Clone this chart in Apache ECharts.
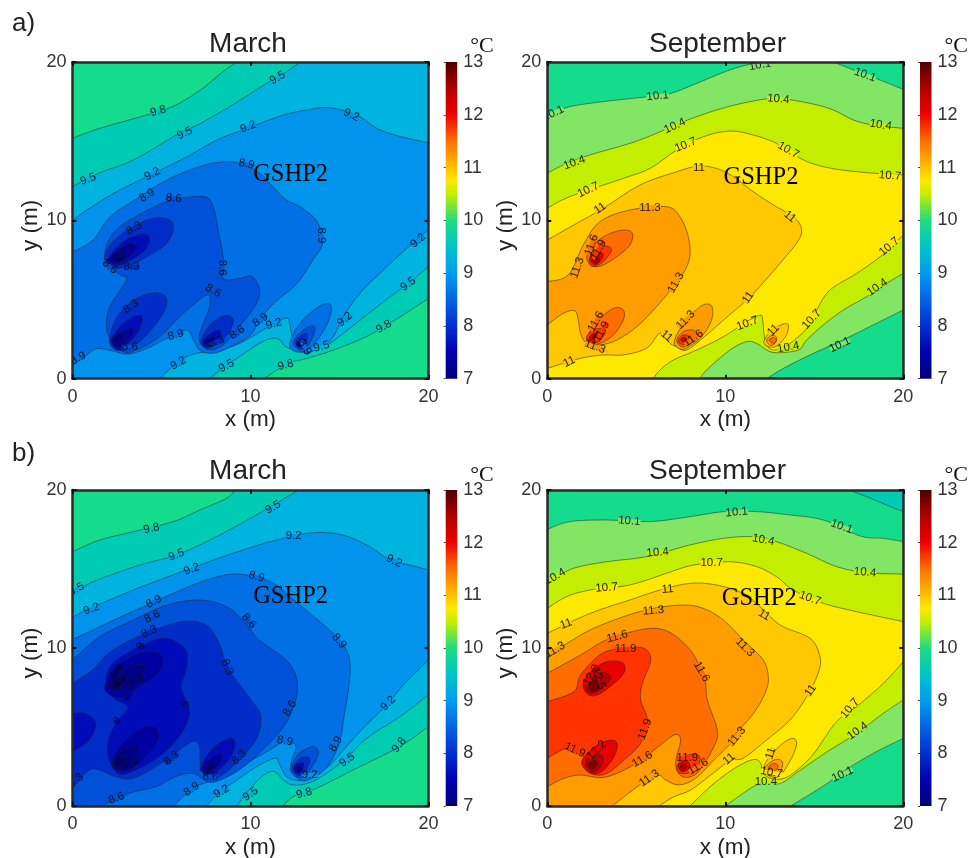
<!DOCTYPE html>
<html><head><meta charset="utf-8">
<style>html,body{margin:0;padding:0;background:#fff}#c{width:971px;height:858px}</style>
<script src="https://cdn.jsdelivr.net/npm/echarts@6/dist/echarts.min.js"></script>
</head><body><div id="c"></div>
<script>
// ---- tick labels / colour scale values
const xyTicks = [0, 10, 20];
const barTicks = [7, 8, 9, 10, 11, 12, 13];
const panelTitles = ['March', 'September', 'March', 'September'];

// ---- contour regions: [level, temperature inside the region, outline segments in metres]
const FULL = [[[0,0]],[[20,0]],[[20,20]],[[0,20]]];

const aMarchRegions = [
 [9.5, 9.65, FULL],
 [9.8, 9.9, [[[0,15.18],[1.5,15.8],[4.15,16.65],[5.65,17.2],[7.15,18.2],[8.46,19.4],[9.25,20]],[[0,20]]]],
 [9.8, 9.9, [[[20,5.07],[18.4,3.9],[17.45,3.28],[16.5,2.65],[14.65,1.8],[13.15,1.28],[12.4,1.07],[11.9,.86],[10.9,.1],[10.7,0]],[[20,0]]]],
 [9.5, 9.35, [[[0,12.13],[1.5,13],[3.4,13.8],[5.85,15.4],[7.15,16.1],[9,17.3],[10.9,18.65],[11.85,19.25],[12.8,20]],[[20,20]],
   [[20,7.07],[18.85,6],[18,5.3],[16.5,4],[15.2,2.86],[14.45,2.23],[13.5,1.8],[12.8,1.8],[12,2],[11.65,2.45],[11.2,2.55],[10.5,2.23],[9.4,1.4],[8.65,.86],[7.7,0]],[[0,0]]]],
 [9.2, 9.05, [[[0,10],[.8,10.65],[2.3,11.7],[4.15,12.75],[6.4,14],[8.1,15.07],[9.8,15.8],[11.85,16.65],[13.9,17.1],[15,17],[16.15,16.55],[17.1,15.8],[18.4,15.3],[20,14.9]],
   [[20,9.4],[18.75,8.2],[17.45,6.85],[16.15,5.4],[15.2,3.9],[14.65,2.65],[13.9,1.9],[12.95,1.65],[12.5,2],[12.3,2.85],[12.1,3.8],[11.55,3.6],[10.7,3.07],[9.4,2.23],[8.1,1.77],[6.8,1.56],[5.85,.97],[4.9,0]],[[0,0]]]],
 [8.9, 8.75, [[[0,.86],[.8,1.5],[1.35,1.9],[2.1,1.8],[3.1,1.56],[4.15,1.9],[5.3,2.55],[6.4,3.07],[6.8,2.44],[7.15,1.8],[7.9,1.6],[8.85,2],[10,2.76],[10.5,3.7],[11.3,4.76],[12.6,6],[13.5,7.5],[14,8.33],[14,9.07],[13.7,10],[12.8,10.85],[12,11.3],[11.1,12.3],[10.5,13],[9.4,13.6],[8.46,13.7],[7.15,13.4],[5.3,12.55],[3.8,11.5],[2.1,10.2],[1.15,8.75],[0,8]]]],
 [8.9, 8.75, [[[12.21,2.23],[12.58,3.18],[13.33,4.13],[14.27,4.76],[14.55,4.34],[14.18,3.18],[13.43,2.02],[12.77,1.68],[12.3,1.85]]]],
 [8.6, 8.45, [[[1.82,8.02],[2.28,9.18],[3.22,10.02],[5.28,11.18],[7.34,11.5],[7.9,10.86],[8.18,9.39],[8.46,7.7],[8.46,6.34],[9.4,6.34],[10.06,6.48],[10.52,5.6],[10.24,4.55],[9.2,3.07],[8.56,2.23],[7.81,1.81],[7.25,2.13],[7.15,2.86],[7.7,4.55],[7.53,5.28],[6.03,3.92],[4.9,2.65],[3.6,1.81],[2.85,1.7],[2.19,2.34],[1.91,3.28],[2.1,4.55],[3.03,6.23],[2.66,6.55],[2,7.28]]]],
 [8.6, 8.45, [[[12.43,2.34],[12.96,3.07],[13.52,3.33],[13.61,2.97],[13.24,2.13],[12.77,1.81]]]],
 [8.3, 8.15, [[[1.82,7.81],[2.19,8.55],[3.22,9.49],[4.53,10.13],[5.47,10.02],[5.66,9.39],[5.19,8.44],[4.16,7.7],[3.31,7.18],[2.47,6.97],[1.91,7.28]]]],
 [8.3, 8.15, [[[2.1,2.65],[2.57,4.02],[3.6,5.07],[4.72,5.43],[5.28,5.07],[5.09,4.13],[4.34,2.97],[3.41,2.02],[2.66,1.77],[2.19,2.02]]]],
 [8.3, 8.15, [[[7.21,2.44],[7.81,3.49],[8.56,3.98],[9.03,3.7],[8.75,2.86],[8.09,2.19],[7.53,1.92]]]],
 [8.3, 8.15, [[[12.55,2.34],[12.87,2.76],[13.18,2.82],[13.15,2.34],[12.77,1.92]]]],
 [8, 7.85, [[[2.06,7.7],[2.85,8.65],[3.88,9.12],[4.34,8.86],[4.06,8.13],[3.22,7.45],[2.47,7.14],[2,7.35]]]],
 [8, 7.85, [[[2.19,2.55],[2.85,3.49],[3.6,3.98],[3.93,3.81],[3.69,2.97],[3.03,2.13],[2.57,1.81],[2.19,2.23]]]],
 [8, 7.85, [[[7.34,2.44],[7.9,2.97],[8.28,3.03],[8.28,2.55],[7.81,2.06],[7.43,2.06]]]],
 [8, 7.85, [[[12.62,2.27],[12.87,2.55],[13.05,2.44],[12.87,2.02],[12.68,1.98]]]],
 [7.7, 7.55, [[[2.13,7.7],[2.85,8.34],[3.5,8.5],[3.6,8.13],[3.03,7.6],[2.38,7.24],[2.06,7.5]]]],
 [7.7, 7.55, [[[2.25,2.55],[2.75,2.97],[3.31,3.18],[3.41,2.86],[2.94,2.23],[2.57,1.92],[2.25,2.19]]]],
 [7.7, 7.55, [[[7.43,2.34],[7.81,2.65],[8,2.55],[7.72,2.19],[7.49,2.19]]]],
 [7.7, 7.55, [[[12.55,2.2],[12.8,2.4],[12.92,2.25],[12.75,2.03]]]],
 [7.4, 7.25, [[[2.19,7.6],[2.66,8.02],[3.03,8.02],[2.94,7.54],[2.47,7.28]]]],
 [7.4, 7.25, [[[2.28,2.55],[2.66,2.86],[2.94,2.76],[2.66,2.23],[2.38,2.13]]]],
 [7.1, 6.95, [[[2.38,7.54],[2.66,7.75],[2.85,7.6],[2.66,7.35]]]],
 [7.1, 6.95, [[[12.62,2.15],[12.78,2.28],[12.85,2.15],[12.72,2.05]]]]
];

const aSepRegions = [
 [10.4, 10.25, FULL],
 [10.1, 10, [[[0,16.65],[1.27,17.18],[3.15,17.5],[5.58,17.8],[6.9,18],[8.39,18.65],[10.26,19.5],[11.57,19.9],[12.3,20]],[[0,20]]]],
 [10.1, 10, [[[16.07,20],[17.2,19.5],[18.7,18.86],[20,18.27]],[[20,20]]]],
 [10.1, 10, [[[20,4.34],[18.3,3.39],[16.6,2.44],[14.76,1.5],[13.26,.65],[12.32,0]],[[20,0]]]],
 [10.4, 10.55, [[[0,12.97],[.9,13.5],[2.4,14.13],[4.64,14.86],[6.14,15.5],[7.64,16.23],[9.51,16.97],[11.39,17.5],[12.88,17.7],[14.76,17.39],[16.07,16.97],[17.19,16.34],[18.31,16.02],[20,15.81]],
   [[20,6.65],[19.06,6.02],[17.94,5.18],[16.63,4.34],[15.5,3.39],[14.57,2.44],[14.1,1.81],[12.88,1.64],[12.32,1.81],[11.76,2.23],[11.2,2.34],[10.26,1.81],[8.95,.55],[8.58,0]],[[0,0]]]],
 [10.7, 10.85, [[[0,10.76],[1.27,11.5],[4.27,12.65],[5.77,13.28],[7.27,14.44],[8.76,15.28],[10.26,15.64],[11.57,15.39],[12.88,14.86],[14.2,13.92],[15.5,13.39],[17.38,13.07],[20,12.86]],
   [[20,9.07],[18.69,7.7],[17.38,6.65],[15.88,5.6],[15.13,4.34],[14.57,3.18],[14,2.55],[13.35,2.02],[12.7,1.81],[12.32,2.13],[12.17,2.86],[12.1,3.7],[11.95,4.02],[11.2,3.6],[9.89,2.65],[8.39,1.81],[7.08,1.18],[6.33,.55],[5.96,0]],[[0,0]]]],
 [11, 11.15, [[[0,.65],[1.84,1.28],[3.15,1.5],[4.27,1.5],[5.58,1.92],[6.33,2.86],[6.89,2.23],[7.27,2.02],[7.83,1.81],[8.95,2.76],[9.89,3.7],[11,4.76],[11.76,5.6],[13.07,7.28],[14,8.55],[14.29,9.28],[14.1,9.92],[13.54,10.44],[12.7,10.97],[11.57,11.81],[10.45,12.76],[9.51,13.28],[8.48,13.43],[7.27,13.07],[5.2,12.23],[3.15,10.76],[1.65,9.81],[0,8.76]]]],
 [11, 11.15, [[[12.19,2.44],[12.6,3.07],[13.26,3.45],[13.54,3.39],[13.44,2.76],[12.98,2.13],[12.6,1.98],[12.23,2.13]]]],
 [11.3, 11.45, [[[0,6.13],[1.18,6.55],[2.02,8.44],[2.96,9.92],[4.64,10.65],[6.7,10.86],[7.45,10.23],[7.92,8.97],[8.01,7.7],[7.64,6.65],[7.08,5.81],[6.14,4.55],[5.02,3.28],[3.9,2.44],[2.96,2.13],[2.21,2.23],[1.87,2.86],[1.74,3.7],[1.55,4.29],[.9,4.13],[0,3.39]]]],
 [11.3, 11.45, [[[7.13,2.34],[7.73,3.6],[8.67,4.61],[9.23,4.59],[9.23,3.7],[8.67,2.65],[8.11,2.13],[7.55,1.85]]]],
 [11.3, 11.45, [[[12.32,2.44],[12.6,2.76],[12.88,2.61],[12.79,2.23],[12.51,2.11]]]],
 [11.6, 11.75, [[[2.21,7.7],[2.58,8.44],[3.33,9.07],[4.27,9.39],[4.78,9.18],[4.64,8.44],[3.9,7.7],[3.05,7.14],[2.49,7.14]]]],
 [11.6, 11.75, [[[2.21,2.55],[2.77,3.6],[3.71,4.44],[4.27,4.34],[4.27,3.7],[3.71,2.76],[2.96,2.23],[2.4,2.23]]]],
 [11.6, 11.75, [[[7.27,2.44],[7.64,2.97],[8.2,3.07],[8.39,2.76],[8.01,2.23],[7.55,2.02]]]],
 [11.6, 11.75, [[[12.47,2.44],[12.7,2.61],[12.88,2.44],[12.7,2.23]]]],
 [11.9, 12.05, [[[2.4,7.7],[2.87,8.23],[3.33,8.38],[3.61,8.13],[3.24,7.5],[2.77,7.12],[2.4,7.18]]]],
 [11.9, 12.05, [[[2.21,2.65],[2.58,3.07],[3.15,3.18],[3.24,2.86],[2.87,2.34],[2.4,2.27]]]],
 [11.9, 12.05, [[[7.36,2.44],[7.64,2.76],[7.94,2.65],[7.85,2.23],[7.49,2.19]]]],
 [12.2, 12.35, [[[2.4,7.6],[2.77,7.92],[3.15,7.87],[2.96,7.39],[2.62,7.18]]]],
 [12.2, 12.35, [[[2.36,2.65],[2.68,2.9],[3,2.76],[2.77,2.4],[2.45,2.4]]]],
 [12.2, 12.35, [[[7.49,2.48],[7.7,2.62],[7.85,2.45],[7.65,2.3]]]],
 [12.5, 12.65, [[[2.49,7.54],[2.77,7.75],[2.92,7.54],[2.73,7.28]]]],
 [12.5, 12.65, [[[2.48,2.65],[2.68,2.8],[2.85,2.65],[2.65,2.48]]]]
];

const bMarchRegions = [
 [9.5, 9.65, FULL],
 [9.8, 9.9, [[[0,16.1],[1.54,16.84],[3.41,17.36],[5.66,18],[7.15,18.73],[8.65,19.47],[9.12,20]],[[0,20]]]],
 [9.8, 9.9, [[[20,5.02],[18.39,3.76],[16.52,2.7],[15.39,2.07],[13.71,1.12],[12.4,.59],[11.84,0]],[[20,0]]]],
 [9.5, 9.35, [[[0,13.46],[1.16,14.2],[3.78,15.25],[5.84,15.89],[7.9,16.94],[10.15,18.31],[12.4,19.79],[12.77,20]],[[20,20]],
   [[20,7.03],[18.39,5.65],[16.52,4.28],[15.39,3.02],[14.27,2.07],[13.33,1.48],[12.4,1.33],[11.84,1.65],[11.37,2.17],[10.9,2.07],[10.15,1.33],[9.21,0]],[[0,0]]]],
 [9.2, 9.05, [[[0,11.94],[.79,12.4],[3.41,13.67],[6.4,14.94],[9.03,16],[11.46,16.84],[13.52,17.3],[15.2,17.15],[16.7,16.41],[17.83,15.57],[18.95,15.25],[20,14.94]],
   [[20,9.24],[18.58,7.66],[17.73,6.5],[16.33,4.92],[15.39,3.76],[14.46,2.59],[13.52,1.86],[12.77,1.6],[12.02,1.86],[11.61,2.7],[11.37,3.02],[10.34,2.49],[9.03,1.48],[8.28,.91],[7.53,0]],[[0,0]]]],
 [8.9, 8.75, [[[0,10.55],[1.54,11.35],[3.97,12.62],[5.66,13.46],[7.53,14.3],[9.21,14.68],[11.09,14.2],[12.21,13.25],[13.33,12.19],[14.64,10.93],[15.39,9.87],[15.6,8.82],[15.5,7.34],[15.3,6],[14.98,3.97],[14.23,2.38],[13.1,1.6],[12.45,1.96],[12.27,2.7],[12.55,3.8],[11.9,4.1],[11.24,3.65],[9.74,2.7],[7.87,1.65],[6.74,1.12],[5.7,0]],[[0,0]]]],
 [8.6, 8.45, [[[0,9.24],[1.54,10.72],[3.41,11.77],[5.28,12.72],[7.15,13.04],[8.65,12.62],[9.74,11.56],[10.49,10.5],[12.17,9.03],[12.64,7.34],[11.99,5.23],[10.67,3.54],[9.36,2.28],[8.05,1.54],[7.4,1.65],[6.74,2.07],[5.81,1.86],[4.68,1.22],[3.18,.8],[1.6,0]],[[0,0]]]],
 [8.6, 8.45, [[[12.27,2.49],[12.73,3.33],[13.48,3.76],[13.82,3.44],[13.58,2.7],[13.01,1.86],[12.55,1.86],[12.27,2.17]]]],
 [8.3, 8.15, [[[0,7.76],[1.12,8.61],[2.25,9.87],[4.34,11.03],[6.18,11.67],[7.49,11.46],[8.24,10.3],[8.61,9.03],[9.18,7.97],[10.11,6.6],[10.58,5.65],[10.3,4.18],[9.18,2.7],[8.24,1.86],[7.68,1.86],[7.21,2.49],[7.12,3.76],[6.74,4.07],[5.62,3.23],[4.68,2.49],[3.37,1.75],[2.43,1.86],[1.5,2.28],[.94,2.28],[.28,1.54],[0,1.27]]]],
 [8.3, 8.15, [[[12.36,2.49],[12.83,3.02],[13.26,3.08],[13.3,2.7],[12.92,1.96],[12.51,2.03]]]],
 [8, 7.85, [[[3.88,10.13],[5.24,10.61],[6.37,9.87],[6.37,8.61],[6.09,7.55],[6.46,6.5],[6.55,5.65],[5.99,4.39],[4.87,3.12],[3.56,2.28],[2.62,2.03],[2.06,2.91],[1.97,3.97],[2.43,5.23],[3.09,6.24],[2.34,6.81],[1.84,7.66],[2.25,9.03]]]],
 [8, 7.85, [[[0,5.86],[.75,5.86],[1.31,5.23],[.94,4.18],[0,3.44]]]],
 [8, 7.85, [[[7.21,2.49],[7.87,3.65],[8.8,4.28],[9.14,3.97],[8.9,3.12],[8.24,2.28],[7.68,1.96],[7.27,2.17]]]],
 [8, 7.85, [[[12.45,2.49],[12.83,2.74],[13.01,2.6],[12.83,2.11],[12.55,2.11]]]],
 [7.7, 7.55, [[[1.84,7.66],[2.43,8.82],[3.75,9.66],[4.78,9.7],[5.11,9.14],[4.68,8.29],[3.65,7.45],[2.81,6.88],[2.25,6.96],[1.87,7.3]]]],
 [7.7, 7.55, [[[2.21,2.91],[3,4.18],[4.12,5.02],[4.78,4.81],[4.78,4.07],[3.93,2.91],[3.18,2.28],[2.43,2.28]]]],
 [7.7, 7.55, [[[7.34,2.49],[7.87,3.12],[8.33,3.33],[8.43,3.02],[8.05,2.38],[7.58,2.07]]]],
 [7.7, 7.55, [[[12.58,2.38],[12.83,2.53],[12.88,2.28],[12.7,2.11]]]],
 [7.4, 7.25, [[[2.06,7.76],[2.81,8.61],[3.84,8.97],[4.12,8.71],[3.75,8.08],[3.09,7.45],[2.43,7.24],[2.06,7.45]]]],
 [7.4, 7.25, [[[2.28,2.91],[2.81,3.54],[3.56,3.86],[3.75,3.54],[3.28,2.7],[2.72,2.28],[2.34,2.45]]]],
 [7.4, 7.25, [[[7.49,2.49],[7.83,2.81],[8.05,2.7],[7.87,2.28],[7.58,2.17]]]],
 [7.1, 6.95, [[[2.21,7.76],[2.72,8.19],[3.09,8.29],[3,7.87],[2.62,7.45],[2.28,7.38]]]],
 [7.1, 6.95, [[[2.34,2.81],[2.72,3.12],[3,3.08],[2.81,2.6],[2.47,2.45]]]],
 [7.1, 6.95, [[[7.64,2.38],[7.83,2.53],[7.87,2.32],[7.68,2.24]]]],
 [6.8, 6.7, [[[2.34,7.72],[2.72,7.97],[2.77,7.66],[2.43,7.45]]]]
];

const bSepRegions = [
 [10.4, 10.25, FULL],
 [10.1, 10, [[[0,17.51],[1.27,18],[3.33,18.1],[5.77,18],[8.01,18.31],[9.89,18.63],[11.76,18.63],[13.63,18.42],[15.51,18.1],[17.57,17.09],[18.88,16.94],[20,16.73]],[[20,20]],[[0,20]]]],
 [9.8, 9.65, [[[16.91,20],[17.94,19.58],[19.06,19.05],[20,18.63]],[[20,20]]]],
 [10.1, 10, [[[20,4.28],[18.31,3.33],[16.6,2.17],[15.73,1.43],[14.7,.7],[13.67,0]],[[20,0]]]],
 [10.4, 10.55, [[[0,14.2],[1.46,15.04],[3.33,15.46],[5.58,15.78],[8.01,16.52],[9.89,16.94],[11.57,17.05],[12.88,16.73],[14.57,15.99],[16.25,15.15],[17.94,14.77],[20,14.68]],
   [[20,6.71],[18.88,5.87],[17.38,4.6],[15.73,3.44],[14.23,2.28],[13.1,1.43],[12.17,1.5],[11.42,1.12],[10,0]],[[0,0]]]],
 [10.7, 10.85, [[[0,12.51],[1.09,13.25],[2.4,13.67],[4.64,13.99],[6.7,14.73],[8.2,15.25],[10.26,15.46],[11.76,15.15],[12.88,14.51],[13.82,13.67],[15.51,12.83],[17.38,12.3],[20,11.67]],
   [[20,9.14],[18.88,7.76],[17.38,6.29],[16.25,5.34],[14.98,3.33],[14.04,2.28],[13.3,1.75],[12.55,1.75],[12.08,2.17],[11.99,2.7],[11.61,2.95],[10.67,2.49],[9.36,1.43],[8.01,0]],[[0,0]]]],
 [11, 11.15, [[[0,10.93],[2.4,12.19],[4.64,13.04],[6.33,13.67],[8.01,14.09],[9.51,13.99],[11,13.46],[11.95,12.62],[13.07,11.46],[14.76,10.61],[15.32,9.45],[15.22,8.4],[14.57,6.92],[13.63,5.44],[12.32,4.18],[11,3.02],[10.3,2.91],[9.18,1.96],[8.05,1.01],[7.12,.59],[6.27,0]],[[0,0]]]],
 [11, 11.15, [[[12.36,2.91],[13.11,3.86],[13.76,4.28],[14.01,3.97],[13.76,3.12],[13.11,1.96],[12.55,1.86],[12.17,2.28]]]],
 [11.3, 11.45, [[[0,9.56],[1.12,10.3],[2.4,11.14],[4.27,11.98],[5.96,12.51],[7.64,12.72],[8.76,12.51],[9.89,11.77],[11,10.51],[12.13,9.24],[12.42,8.08],[12.23,7.13],[11.59,5.87],[10.45,4.39],[10.3,3.97],[9.36,2.91],[8.33,1.75],[7.4,1.33],[6.65,1.65],[6.27,1.96],[5.62,1.65],[4.68,.91],[3.65,0]],[[0,0]]]],
 [11.3, 11.45, [[[12.27,2.49],[12.73,2.91],[13.11,2.91],[13.22,2.6],[13.01,2.07],[12.58,1.96],[12.28,2.17]]]],
 [11.6, 11.75, [[[0,8.4],[1.87,9.56],[3.56,10.61],[6.18,11.24],[7.87,10.08],[8.8,8.19],[8.99,6.71],[9.55,4.81],[9.36,3.76],[8.43,2.11],[7.58,1.86],[7.21,2.7],[7.49,4.18],[7.12,4.49],[5.99,3.54],[4.68,2.49],[3.18,1.81],[1.87,1.96],[.94,1.75],[0,1.22]]]],
 [11.6, 11.75, [[[12.45,2.49],[12.73,2.7],[12.96,2.55],[12.83,2.24],[12.55,2.17]]]],
 [11.9, 12.05, [[[0,6.6],[1.5,7.24],[1.87,8.29],[3.09,9.66],[4.4,9.98],[5.43,9.98],[5.81,9.24],[5.34,7.76],[5.24,6.71],[5.62,5.44],[5.24,3.97],[4.31,2.91],[3.28,2.03],[2.43,2.07],[2.02,2.7],[1.97,3.33],[1.12,3.65],[0,3.02]]]],
 [11.9, 12.05, [[[7.27,2.49],[7.68,3.12],[8.33,3.29],[8.58,3.02],[8.43,2.38],[7.87,2.07],[7.4,2.11]]]],
 [12.2, 12.35, [[[2.02,7.76],[2.53,8.61],[3.37,9.14],[4.21,9.07],[4.34,8.5],[3.75,7.76],[2.81,7.03],[2.25,7.09]]]],
 [12.2, 12.35, [[[1.97,2.91],[2.81,3.86],[3.65,4.18],[3.93,3.86],[3.75,3.12],[3.18,2.28],[2.62,2.03],[2.15,2.28]]]],
 [12.2, 12.35, [[[7.34,2.53],[7.58,2.81],[7.96,2.74],[7.96,2.38],[7.58,2.17]]]],
 [12.5, 12.65, [[[2.15,7.76],[2.72,8.4],[3.37,8.4],[3.56,8.08],[3.09,7.45],[2.53,7.13],[2.21,7.34]]]],
 [12.5, 12.65, [[[2.15,2.81],[2.62,3.23],[3.09,3.16],[3.09,2.7],[2.72,2.17],[2.34,2.28]]]],
 [12.5, 12.65, [[[7.45,2.53],[7.68,2.7],[7.83,2.49],[7.64,2.28]]]],
 [12.8, 12.95, [[[2.34,7.76],[2.81,8.08],[3.09,7.87],[2.81,7.34],[2.43,7.3]]]],
 [12.8, 12.95, [[[2.34,2.7],[2.62,2.91],[2.81,2.7],[2.62,2.38],[2.4,2.38]]]]
];

// ---- contour labels: [x, y, text, slope in degrees]
const aMarchLabels = [[4.81,16.9,'9.8',15],[11.52,19,'9.5',30],[6.31,15.5,'9.5',25],[.88,12.6,'9.5',20],[9.87,15.9,'9.2',20],[15.67,16.65,'9.2',-25],[4.48,12.93,'9.2',28],[9.78,13.56,'8.9',-10],[4.19,11.58,'8.9',32],[5.69,11.39,'8.6',-5],[3.45,9.49,'8.3',30],[8.43,7.01,'8.6',-90],[13.99,9.05,'8.9',-90],[7.9,5.56,'8.6',-30],[3.28,4.55,'8.3',35],[5.79,2.76,'8.9',15],[10.56,3.71,'8.9',35],[11.31,3.45,'9.2',15],[9.25,2.91,'8.6',35],[8.09,2.34,'8.3',20],[15.3,3.75,'9.2',40],[17.49,3.28,'9.8',30],[18.86,5.98,'9.5',35],[19.42,8.72,'9.2',42],[13.99,2.02,'9.5',15],[11.97,.86,'9.8',15],[8.65,.8,'9.5',28],[5.94,.97,'9.2',30],[.32,1.28,'8.9',30],[3.22,2.02,'8.6',0],[2.1,7.07,'8.6',-40],[3.31,7.07,'8.3',0],[3.05,8.1,'7.7',30],[13.05,1.98,'8.9',-60]];
const aSepLabels = [[.34,16.76,'10.1',25],[6.2,17.85,'10.1',5],[11.95,19.8,'10.1',10],[17.85,19.18,'10.1',-20],[12.98,17.66,'10.4',-5],[7.17,15.96,'10.4',25],[18.73,16.02,'10.4',-8],[1.52,13.64,'10.4',20],[7.77,14.76,'10.7',22],[13.54,14.44,'10.7',-30],[19.25,12.82,'10.7',-5],[2.3,11.92,'10.7',25],[8.52,13.33,'11',0],[2.96,10.76,'11',35],[5.77,10.82,'11.3',0],[13.63,10.23,'11',-40],[1.69,7.01,'11.3',70],[7.23,6.06,'11.3',60],[11.29,5.12,'11',55],[19.21,8.34,'10.7',40],[18.54,5.77,'10.4',35],[14.85,3.75,'10.7',48],[11.24,3.49,'10.7',20],[7.77,3.71,'11.3',45],[6.7,2.69,'11',-40],[12.7,3.07,'11',45],[13.54,1.98,'10.4',10],[16.44,2.13,'10.1',25],[1.24,1.07,'11',25],[2.68,2.02,'11.3',-20],[8.2,2.55,'11.6',35],[2.73,3.6,'11.6',60],[3.05,2.97,'11.9',60],[2.49,8.44,'11.6',70],[2.87,8.13,'11.9',60]];
const bMarchLabels = [[4.44,17.57,'9.8',12],[11.27,18.9,'9.5',30],[5.84,15.89,'9.5',20],[.22,13.71,'9.5',30],[12.43,17.09,'9.2',0],[6.69,14.98,'9.2',20],[1.07,12.47,'9.2',20],[18.07,15.51,'9.2',-25],[10.34,14.51,'8.9',-15],[4.57,12.93,'8.9',28],[4.49,11.98,'8.6',28],[9.91,11.71,'8.6',-50],[4.31,11.03,'8.3',25],[3.84,10.13,'8',70],[14.98,10.44,'8.9',-50],[8.69,8.78,'8.3',-65],[6.35,6.46,'8',70],[12.21,6.18,'8.6',60],[2.51,5.38,'8',50],[17.73,6.5,'9.2',45],[18.35,3.86,'9.8',50],[11.93,4.11,'8.9',-10],[14.79,3.92,'8.9',60],[15.43,2.91,'9.5',35],[5.56,3.02,'8.3',40],[9.36,3.08,'8.3',45],[6.69,1.05,'8.9',35],[8.37,.91,'9.2',30],[10,.76,'9.5',35],[13.01,.8,'9.8',15],[2.47,.49,'8.6',20],[.19,1.6,'8.3',40],[7.75,1.86,'8.6',0],[3.22,7.13,'7.7',60],[3.6,7.87,'7.4',35],[2.47,8.5,'7.1',60],[3.31,2.6,'7.4',30],[13.33,1.96,'9.2',0]];
const bSepLabels = [[4.61,18.04,'10.1',-5],[10.64,18.59,'10.1',5],[16.54,17.68,'10.1',-20],[.43,14.51,'10.4',30],[6.2,16.05,'10.4',5],[12.13,16.84,'10.4',-10],[17.85,14.79,'10.4',-5],[3.33,13.82,'10.7',5],[9.23,15.42,'10.7',0],[14.76,13.14,'10.7',-20],[6.76,13.71,'11',5],[1.05,11.52,'11',20],[12.19,12.09,'11',-30],[5.96,12.36,'11.3',5],[3.93,10.72,'11.6',15],[.43,9.87,'11.3',30],[4.4,9.94,'11.9',0],[11.1,10.04,'11.3',-45],[8.67,8.5,'11.6',-60],[14.79,7.3,'11',55],[17,6.18,'10.7',50],[5.49,4.85,'11.9',70],[17.43,4.75,'10.4',35],[10.64,4.39,'11.3',50],[1.55,3.54,'11.9',-25],[2.77,3.54,'12.2',45],[5.34,2.95,'11.6',30],[10.21,2.97,'11',40],[12.55,3.33,'11',70],[7.87,3.02,'11.9',0],[8.48,2.49,'11.6',30],[5.73,1.75,'11.3',35],[16.59,2,'10.1',25],[12.6,2.11,'10.7',-10],[12.28,1.54,'10.4',0],[2.49,8.29,'12.2',60],[2.87,8.08,'12.5',-70]];

// where the "GSHP2" annotation sits in each panel, in metres
const gshpPositions = [[10.15,12.9],[9.9,12.7],[10.15,13.25],[9.8,13.1]];

// ---- styling tables
const bandTops = [6.8,7.1,7.4,7.7,8,8.3,8.6,8.9,9.2,9.5,9.8,10.1,10.4,10.7,11,11.3,11.6,11.9,12.2,12.5,12.8,99];
const bandColors = ['#00004c','#000068','#000084','#0000a0','#000cb8','#002cc8','#0050d8','#0070e4','#0094ec','#00b4e0','#00ccb4','#14dc8c','#82e664','#c4ee00','#ffe800','#ffc800','#ff9c00','#ff6c00','#ff3400','#e80000','#b00000','#7a0000'];
const barStops = [[7,'#00007a'],[7.5,'#0000b0'],[8,'#0030d0'],[8.5,'#0064e4'],[9,'#009cf0'],[9.5,'#00c4c8'],[10,'#20dc80'],[10.5,'#c4ee00'],[10.75,'#ffe800'],[11,'#ffc000'],[11.5,'#ff7000'],[12,'#f00000'],[12.5,'#b00000'],[13,'#500000']];
const bandColor = t => bandColors[bandTops.findIndex(v => t <= v)];

const SANS = '"Liberation Sans", Arial, sans-serif', SERIF = '"Liberation Serif", serif';
const INK = '#2a2a2a', TXT = '#333';

const panels = [
 {regions:aMarchRegions,labels:aMarchLabels,left:72.5,top:62,h:316.7,barLeft:445.7,cold:true},
 {regions:aSepRegions,labels:aSepLabels,left:547.3,top:62,h:316.7,barLeft:920,cold:false},
 {regions:bMarchRegions,labels:bMarchLabels,left:72.5,top:490,h:316,barLeft:445.7,cold:true},
 {regions:bSepRegions,labels:bSepLabels,left:547.3,top:490,h:316,barLeft:920,cold:false}
];

const onEdge = p => p[0] === 0 || p[0] === 20 || p[1] === 0 || p[1] === 20;

function curve(pts, closed) {
  const n = pts.length; let d = '';
  const at = i => closed ? pts[(i + n) % n] : pts[Math.max(0, Math.min(n - 1, i))];
  const last = closed ? n : n - 1;
  for (let i = 0; i < last; i++) {
    const a = at(i-1), b = at(i), c = at(i+1), e = at(i+2);
    d += ` C${b[0]+(c[0]-a[0])/6} ${b[1]+(c[1]-a[1])/6} ${c[0]-(e[0]-b[0])/6} ${c[1]-(e[1]-b[1])/6} ${c[0]} ${c[1]}`;
  }
  return d;
}

function outline(path, api) {
  let d = '';
  path.forEach((seg, i) => {
    const pts = seg.map(p => api.coord(p));
    d += (i ? ' L' : 'M') + pts[0][0] + ' ' + pts[0][1];
    if (pts.length > 1) {
      const closed = path.length === 1 && !onEdge(seg[0]) && !onEdge(seg[seg.length - 1]);
      d += curve(pts, closed);
    }
  });
  return d + ' Z';
}

const grid = [], xAxis = [], yAxis = [], series = [], title = [];
const frameAxis = (kind, pos, gridIndex, showLabel, nameText) => {
  const ax = {
    type:'value', min:0, max:20, interval:10, gridIndex, position:pos, z:10,
    splitLine:{show:false},
    axisLine:{show:true,onZero:false,lineStyle:{color:INK,width:2.5}},
    axisTick:{show:true,inside:true,length:4,lineStyle:{color:'#111',width:2}},
    axisLabel:{show:showLabel,color:TXT,fontSize:18,fontFamily:SANS,margin:kind==='x'?9:6,
      customValues:xyTicks}
  };
  if (nameText) Object.assign(ax,{name:nameText,nameLocation:'middle',nameGap:kind==='x'?30:25,
    nameTextStyle:{color:'#222',fontSize:22.5,fontFamily:SANS,padding:kind==='y'?[0,10,0,0]:0}});
  return ax;
};

panels.forEach((p, i) => {
  grid.push({left:p.left,top:p.top,width:356,height:p.h,outerBoundsMode:'none',containLabel:false});
  const gi = i * 2, ax = xAxis.length, ay = yAxis.length;
  xAxis.push(frameAxis('x','bottom',gi,true,'x (m)'), frameAxis('x','top',gi,false));
  yAxis.push(frameAxis('y','left',gi,true,'y (m)'), frameAxis('y','right',gi,false));
  // filled contours
  series.push({
    type:'custom', coordinateSystem:'cartesian2d', xAxisIndex:ax, yAxisIndex:ay, clip:true, z:2, silent:true,
    data:p.regions.map(r => r[2][0][0]),
    renderItem:(params, api) => {
      const r = p.regions[params.dataIndex];
      return {type:'path', shape:{pathData:outline(r[2], api)},
        style:{fill:bandColor(r[1]),stroke:'rgba(30,30,40,.5)',lineWidth:1}};
    }
  });
  // contour labels
  series.push({
    type:'custom', coordinateSystem:'cartesian2d', xAxisIndex:ax, yAxisIndex:ay, clip:true, z:3, silent:true,
    data:p.labels.map(l => [l[0],l[1]]),
    renderItem:(params, api) => {
      const l = p.labels[params.dataIndex], c = api.coord([l[0],l[1]]);
      return {type:'text', x:c[0], y:c[1], rotation:l[3]*Math.PI/180,
        style:{text:l[2],fontSize:11.5,fontFamily:SANS,fill:'rgba(10,14,28,.9)',align:'center',verticalAlign:'middle',
          backgroundColor:bandColor(+l[2]+(p.cold?-.01:.01)),lineHeight:4}};
    }
  });
  // annotation
  series.push({
    type:'custom', coordinateSystem:'cartesian2d', xAxisIndex:ax, yAxisIndex:ay, z:4, silent:true,
    data:[gshpPositions[i]],
    renderItem:(params, api) => {
      const c = api.coord([api.value(0),api.value(1)]);
      return {type:'text', x:c[0], y:c[1],
        style:{text:'GSHP2',fontSize:24.5,fontFamily:SERIF,fill:'#000',align:'left',verticalAlign:'middle'}};
    }
  });
  // colour bar
  const gb = gi + 1;
  grid.push({left:p.barLeft,top:p.top,width:11.5,height:p.h,outerBoundsMode:'none',containLabel:false});
  const bx = xAxis.length, by = yAxis.length;
  xAxis.push({type:'value',gridIndex:gb,min:0,max:1,show:false});
  yAxis.push({type:'value',gridIndex:gb,min:7,max:13,interval:1,position:'right',z:10,
    splitLine:{show:false},axisLine:{show:false},
    axisTick:{show:true,inside:true,length:2,lineStyle:{color:'#444',width:1}},
    axisLabel:{color:TXT,fontSize:18,fontFamily:SANS,margin:6,customValues:barTicks}});
  series.push({
    type:'custom', coordinateSystem:'cartesian2d', xAxisIndex:bx, yAxisIndex:by, z:2, silent:true,
    data:[[0,7,1,13]],
    renderItem:(params, api) => {
      const a = api.coord([api.value(0),api.value(1)]), b = api.coord([api.value(2),api.value(3)]);
      return {type:'rect', shape:{x:a[0],y:b[1],width:b[0]-a[0],height:a[1]-b[1]},
        style:{fill:new echarts.graphic.LinearGradient(0,1,0,0,barStops.map(s => ({offset:(s[0]-7)/6,color:s[1]})))}};
    }
  });
  title.push({text:panelTitles[i],padding:0,left:p.left===72.5?248:717.5,top:i<2?44:471,textAlign:'center',textVerticalAlign:'middle',
    textStyle:{color:'#222',fontSize:28,fontWeight:'normal',fontFamily:SANS}});
  title.push({text:'°C',padding:0,left:p.barLeft+24.5,top:i<2?46:475,textVerticalAlign:'middle',
    textStyle:{color:'#111',fontSize:22,fontWeight:'normal',fontFamily:SERIF}});
});
title.push({text:'a)',padding:0,left:12,top:24,textVerticalAlign:'middle',textStyle:{color:'#222',fontSize:26,fontWeight:'normal',fontFamily:SANS}});
title.push({text:'b)',padding:0,left:12,top:454,textVerticalAlign:'middle',textStyle:{color:'#222',fontSize:26,fontWeight:'normal',fontFamily:SANS}});

const chart = echarts.init(document.getElementById('c'), null, {renderer:'canvas'});
chart.setOption({animation:false, backgroundColor:'#fff', title, grid, xAxis, yAxis, series});
</script></body></html>
